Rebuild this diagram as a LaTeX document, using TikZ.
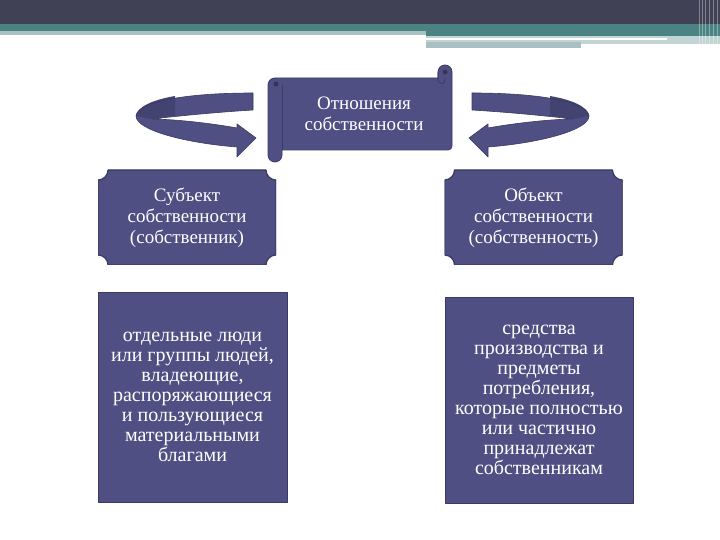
\documentclass[tikz,border=0pt]{standalone}
\usepackage{fontspec}
\setmainfont{Liberation Serif}
\usetikzlibrary{calc}
\definecolor{boxfill}{HTML}{4F4F84}
\definecolor{boxline}{HTML}{3A3A62}
\definecolor{boxdark}{HTML}{34345C}
\definecolor{headdark}{HTML}{414155}
\definecolor{headteal}{HTML}{4A8381}
\definecolor{headgray}{HTML}{A9C1C3}
\tikzset{
	every path/.style={line join=round},
	txt/.style={
		text=white,
		align=center,
		font=\fontsize{19}{21}\selectfont,
	},
	band/.style={
		fill=boxfill,
		draw=boxline,
		line width=0.6pt,
	},
	fold/.style={
		fill=boxdark,
	},
	plaque/.style={
		txt,
		minimum width=178pt,
		minimum height=95pt,
		path picture={
			\fill[boxfill, draw=boxline, line width=1.2pt]
				($(path picture bounding box.north west)+(10,0)$)
				-- ($(path picture bounding box.north east)+(-10,0)$)
				arc[start angle=180, end angle=270, radius=10]
				-- ($(path picture bounding box.south east)+(0,10)$)
				arc[start angle=90, end angle=180, radius=10]
				-- ($(path picture bounding box.south west)+(10,0)$)
				arc[start angle=0, end angle=90, radius=10]
				-- ($(path picture bounding box.north west)+(0,-10)$)
				arc[start angle=270, end angle=360, radius=10]
				-- cycle;
		},
	},
	infobox/.style={
		txt,
		draw=boxline,
		fill=boxfill,
		line width=0.8pt,
		inner sep=0pt,
		font=\fontsize{20}{20}\selectfont,
	},
}

\newcommand{\looparrow}{%
	\fill[boxfill] (253,447) .. controls (180,447) and (137,437) .. (136,424)
		.. controls (136,410) and (185,397) .. (237,393)
		-- (237,383) -- (256,402) -- (237,416) -- (237,412)
		.. controls (215,416) and (180,420.5) .. (152,421)
		.. controls (170,423) and (205,427) .. (253,430) -- cycle;
	\fill[boxdark!45!boxfill]
		(136,424) .. controls (137,433) and (152,440) .. (175,444)
		-- (175,424.5) .. controls (165,423.5) and (158,422) .. (152,421) -- cycle;
	\draw[boxline, line width=0.6pt] (253,447) .. controls (180,447) and (137,437) .. (136,424)
		.. controls (136,410) and (185,397) .. (237,393)
		-- (237,383) -- (256,402) -- (237,416) -- (237,412)
		.. controls (215,416) and (180,420.5) .. (152,421)
		.. controls (170,423) and (205,427) .. (253,430) -- cycle;
}

\begin{document}
\begin{tikzpicture}[x=1pt,y=1pt]
	\useasboundingbox[fill=white] (0,0) rectangle (720,540);

	% header
	\fill[headdark] (0,516) rectangle (720,540);
	\fill[headteal] (0,509) rectangle (426,516);
	\fill[headteal] (426,504) rectangle (720,516);
	\fill[headgray] (0,505) rectangle (426,509);
	\fill[headgray!70] (426,496) rectangle (720,504);
	\fill[white] (426,499.5) rectangle (667,501.5);
	\fill[headgray] (426,492) rectangle (581,498);
	\foreach \x in {699,702,705,709,713,717}
		\draw[white, opacity=0.35, line width=0.8pt] (\x,492) -- (\x,540);

	% arrows
	\looparrow
	\begin{scope}[xscale=-1]
		\begin{scope}[xshift=-725pt]
			\looparrow
		\end{scope}
	\end{scope}

	% scroll
	\path[band, line width=0.8pt] (268,455) arc[start angle=180, end angle=90, radius=7]
		-- (438,462) -- (438,468) arc[start angle=180, end angle=0, radius=7]
		-- (452,394) arc[start angle=0, end angle=-90, radius=4]
		-- (282,390) -- (282,385) arc[start angle=0, end angle=-180, radius=7]
		-- cycle;
	\draw[boxline, line width=0.8pt] (282,455) -- (282,390);
	\draw[boxline, line width=0.8pt] (438,468) -- (438,460) arc[start angle=180, end angle=360, radius=3.5] -- (445,462);
	\fill[fold] (276,456) circle (2.5);
	\fill[fold] (445,468) circle (2.5);

	\node[txt] 		(rel) at (364,426) {Отношения\\собственности};

%%%

	\node[plaque] 	(subj) at (187,322.5) {Субъект\\собственности\\(собственник)};
	\node[plaque] 	(obj) at (533.5,322.5) {Объект\\собственности\\(собственность)};

	\node[infobox, minimum width=189pt, minimum height=210pt] (people) at (192.5,143)
		{отдельные люди\\или группы людей,\\владеющие,\\распоряжающиеся\\и пользующиеся\\материальными\\благами};
	\node[infobox, minimum width=188pt, minimum height=206pt] (means) at (539,140)
		{средства\\производства и\\предметы\\потребления,\\которые полностью\\или частично\\принадлежат\\собственникам};
\end{tikzpicture}
\end{document}
